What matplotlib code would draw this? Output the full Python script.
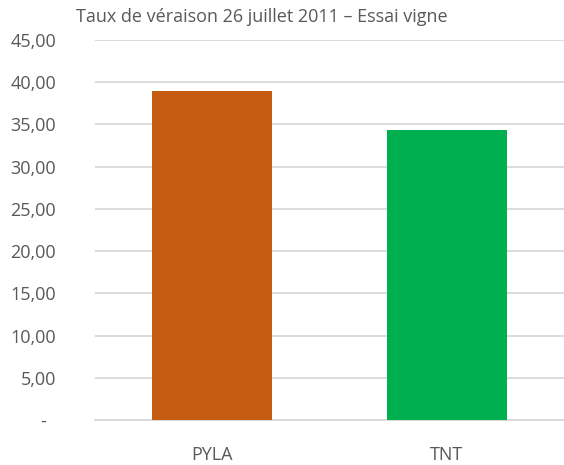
import matplotlib
matplotlib.use("Agg")
import matplotlib.pyplot as plt
import numpy as np

categories = ["PYLA", "TNT"]
values = [39.0, 34.4]
colors = ["#C55A11", "#00B050"]
yticks = [0, 5, 10, 15, 20, 25, 30, 35, 40, 45]
ytick_labels = ["-\u00a0\u00a0", "5,00", "10,00", "15,00", "20,00", "25,00", "30,00", "35,00", "40,00", "45,00"]
title = "Taux de véraison 26 juillet 2011 \u2013 Essai vigne"

plt.rcParams['font.family'] = ['Open Sans', 'DejaVu Sans']

fig = plt.figure(figsize=(5.64, 4.65), dpi=100)
ax = fig.add_axes([95/564, 1 - 420/465, 1 - 95/564, 380/465])

x = np.arange(len(categories))
ax.bar(x, values, width=0.51, color=colors, zorder=3)

ax.set_ylim(0, 45)
ax.set_xlim(-0.5, 1.5)
ax.set_yticks(yticks)
ax.set_yticklabels(ytick_labels)
ax.set_xticks(x)
ax.set_xticklabels(categories)
ax.yaxis.grid(True, color="#D9D9D9", linewidth=1.3, zorder=0)
for s in ax.spines.values():
    s.set_visible(False)
ax.spines["bottom"].set_visible(True)
ax.spines["bottom"].set_color("#D9D9D9")
ax.spines["bottom"].set_linewidth(1.3)
ax.tick_params(axis="both", length=0, labelsize=13, colors="#595959")
ax.tick_params(axis="y", pad=28)
ax.tick_params(axis="x", pad=19)

fig.text(262/564, 1 - 17/465, title, ha="center", va="center", fontsize=13, color="#595959")

fig.savefig("out.png", dpi=100)
